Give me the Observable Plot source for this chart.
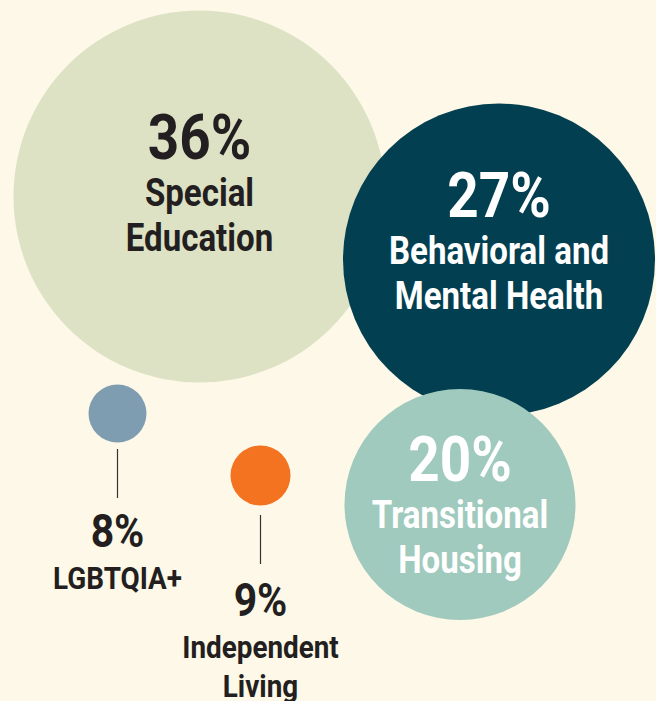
<!DOCTYPE html>
<html>
<head>
<meta charset="utf-8">
<script src="https://cdn.jsdelivr.net/npm/d3@7"></script>
<script src="https://cdn.jsdelivr.net/npm/@observablehq/plot@0.6"></script>
<style>
  html, body { margin: 0; padding: 0; background: #fdf8e7; }
  #chart svg { display: block; }
</style>
</head>
<body>
<div id="chart"></div>
<script>
// ---- data ----
const categories = ["Special Education", "Behavioral and Mental Health", "Transitional Housing", "LGBTQIA+", "Independent Living"];
const shares = [36, 27, 20, 8, 9];
const nameLines = ["Special\nEducation", "Behavioral and\nMental Health", "Transitional\nHousing", "LGBTQIA+", "Independent\nLiving"];

// ---- layout (bubble arrangement, pixel space) ----
const centerX = [199, 498.5, 459.5, 117, 260];
const centerY = [196, 259, 504, 413, 475];
const pctBaseline = [160, 218, 482, 548, 617];
const nameBaseline = [205, 263, 527, 588, 657];
const leaderTop = [null, null, null, 449, 515];
const leaderBottom = [null, null, null, 498, 564];

// ---- styles ----
const fills = ["#dde2c4", "#023f50", "#9fcabd", "#7f9db0", "#f47321"];
const textColors = ["#231f20", "#ffffff", "#ffffff", "#231f20", "#231f20"];
const bigSize = 63, bigName = 38, smallSize = 47, smallName = 32;
const condense = 0.87;
const FONT = "Roboto, 'Noto Sans', sans-serif";

const rows = categories.map((c, i) => ({
  category: c,
  share: shares[i],
  name: nameLines[i],
  x: centerX[i],
  y: centerY[i],
  pctY: pctBaseline[i],
  nameY: nameBaseline[i],
  ly1: leaderTop[i],
  ly2: leaderBottom[i],
  textColor: textColors[i],
  big: i < 3
}));
const big = rows.filter(d => d.big);
const small = rows.filter(d => !d.big);
const leaders = rows.filter(d => d.ly1 != null);

const W = 656, H = 701;

const chart = Plot.plot({
  width: W,
  height: H,
  margin: 0,
  style: { background: "#fdf8e7", fontFamily: FONT, overflow: "visible" },
  x: { domain: [0, W], range: [0, W], axis: null },
  y: { domain: [0, H], range: [0, H], axis: null },
  r: { type: "linear", domain: [8, 9, 20, 27, 36], range: [29, 30, 115.5, 156, 186] },
  color: { domain: categories, range: fills },
  marks: [
    Plot.dot(rows, { x: "x", y: "y", r: "share", fill: "category", stroke: null }),
    Plot.ruleX(leaders, { x: "x", y1: "ly1", y2: "ly2", stroke: "#333333", strokeWidth: 1.2 }),
    // percentages (baseline placement)
    Plot.text(big, { x: "x", y: "pctY", text: d => d.share + "%", fill: "textColor",
      fontSize: bigSize, fontWeight: "bold", lineAnchor: "bottom", dy: -2 }),
    Plot.text(small, { x: "x", y: "pctY", text: d => d.share + "%", fill: "textColor",
      fontSize: smallSize, fontWeight: "bold", lineAnchor: "bottom", dy: -2 }),
    // names
    Plot.text(big, { x: "x", y: "nameY", text: "name", fill: "textColor",
      fontSize: bigName, fontWeight: "bold", lineAnchor: "top", lineHeight: 45 / bigName,
      dy: -0.71 * bigName - 4 }),
    Plot.text(small, { x: "x", y: "nameY", text: "name", fill: "textColor",
      fontSize: smallName, fontWeight: "bold", lineAnchor: "top", lineHeight: 39 / smallName,
      dy: -0.71 * smallName - 4 })
  ]
});
// condensed look: narrow each label horizontally around its anchor
d3.select(chart).selectAll("text").each(function () {
  const t = this.getAttribute("transform") || "";
  this.setAttribute("transform", t + ` scale(${condense},1)`);
});
document.getElementById("chart").appendChild(chart);
</script>
</body>
</html>
